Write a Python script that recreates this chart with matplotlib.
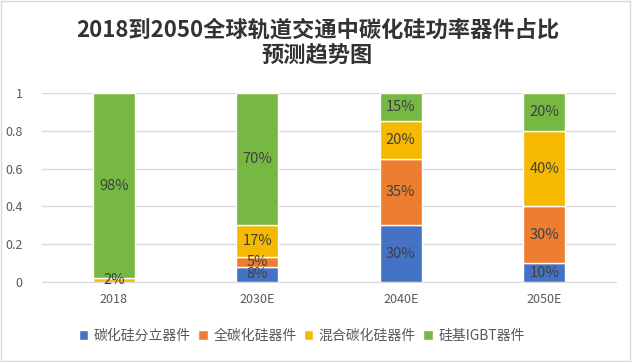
import numpy as np
import matplotlib.pyplot as plt
from matplotlib.patches import Rectangle

plt.rcParams['font.family'] = ['Noto Sans CJK SC', 'DejaVu Sans']

years = ['2018', '2030E', '2040E', '2050E']
series = ['碳化硅分立器件', '全碳化硅器件', '混合碳化硅器件', '硅基IGBT器件']
discrete = [0.00, 0.08, 0.30, 0.10]
full_sic = [0.00, 0.05, 0.35, 0.30]
hybrid = [0.02, 0.17, 0.20, 0.40]
igbt = [0.98, 0.70, 0.15, 0.20]
colors = ['#4472C4', '#ED7D31', '#F4B900', '#76B843']

fig = plt.figure(figsize=(6.35, 3.62), dpi=100)
ax = fig.add_axes([42/635, 1 - 282/362, 574/635, 189/362])

x = np.arange(len(years))
bottom = np.zeros(len(years))
for name, vals, c in zip(series, [discrete, full_sic, hybrid, igbt], colors):
    vals = np.array(vals)
    ax.bar(x, vals, 0.29, bottom=bottom, color=c, edgecolor='white',
           linewidth=1, label=name, zorder=3)
    for i, v in enumerate(vals):
        if v > 0:
            ax.text(x[i], bottom[i] + v / 2, f'{v*100:.0f}%', ha='center', va='center',
                    fontsize=10.5, color='#404040', zorder=4)
    bottom += vals

ax.set_xlim(-0.5, 3.5)
ax.set_ylim(0, 1)
ax.set_yticks([0, 0.2, 0.4, 0.6, 0.8, 1])
ax.set_yticklabels(['0', '0.2', '0.4', '0.6', '0.8', '1'])
ax.set_xticks(x)
ax.set_xticklabels(years)
ax.tick_params(length=0, colors='#595959', labelsize=9)
ax.tick_params(axis='y', pad=14)
ax.tick_params(axis='x', pad=8)
ax.grid(axis='y', color='#d9d9d9', linewidth=1, zorder=0)
for s in ['left', 'right', 'top']:
    ax.spines[s].set_visible(False)
ax.spines['bottom'].set_color('#d9d9d9')

fig.text(0.5, 1 - 30/362, '2018到2050全球轨道交通中碳化硅功率器件占比', ha='center', va='center',
         fontsize=16, fontweight='bold', color='#333333')
fig.text(0.5, 1 - 56/362, '预测趋势图', ha='center', va='center',
         fontsize=16, fontweight='bold', color='#333333')

leg = fig.legend(loc='center', bbox_to_anchor=(0.475, 1 - 336/362), ncol=4, frameon=False,
                 fontsize=10, handlelength=0.7, handleheight=0.7, handletextpad=0.4,
                 columnspacing=0.5)
for t in leg.get_texts():
    t.set_color('#595959')

fig.patches.append(Rectangle((1/635, 1/362), 629/635, 360/362, transform=fig.transFigure,
                             fill=False, edgecolor='#d9d9d9', linewidth=1))

fig.savefig('out.png', dpi=100)
